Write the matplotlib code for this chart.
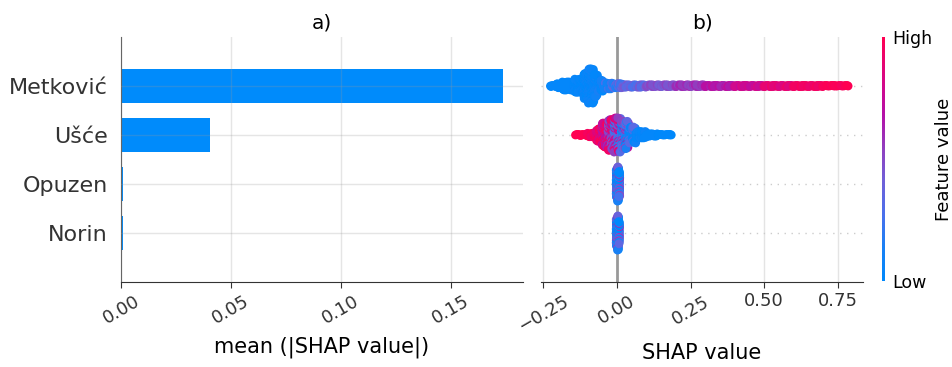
import matplotlib
matplotlib.use('Agg')
import matplotlib.pyplot as plt
import numpy as np
from matplotlib.colors import LinearSegmentedColormap
from matplotlib.cm import ScalarMappable

# features, bottom row first
features = ['Norin', 'Opuzen', 'Ušće', 'Metković']
mean_abs_shap = [0.0009, 0.0009, 0.0405, 0.1736]

bar_ticks = [0.0, 0.05, 0.10, 0.15]
bar_tick_labels = ['0.00', '0.05', '0.10', '0.15']
swarm_ticks = [-0.25, 0.0, 0.25, 0.50, 0.75]
swarm_tick_labels = ['\u22120.25', '0.00', '0.25', '0.50', '0.75']

# beeswarm read off as bins: edges, points per 0.01 wide column,
# mean feature value (0 low .. 1 high) and how mixed the colours are
metkovic_edges = [-0.225, -0.205, -0.185, -0.145, -0.112, -0.097, -0.078, -0.064, -0.045,
                  -0.015, 0.02, 0.1, 0.2, 0.3, 0.4, 0.5, 0.6, 0.7, 0.785]
metkovic_counts = [3, 8, 15, 24, 45, 61, 40, 20, 11, 8, 5, 4, 4, 3, 3, 3, 3, 2]
metkovic_fv = [0.02, 0.02, 0.02, 0.03, 0.04, 0.05, 0.06, 0.08, 0.15, 0.28, 0.36, 0.48,
               0.58, 0.68, 0.78, 0.88, 0.94, 0.98]
metkovic_spread = [0, 0, 0, 0.03, 0.05, 0.05, 0.05, 0.08, 0.12, 0.12, 0.1, 0.06,
                   0.06, 0.06, 0.05, 0.05, 0.03, 0.02]

usce_edges = [-0.140, -0.125, -0.100, -0.070, -0.050, -0.030, -0.010, 0.015, 0.040,
              0.065, 0.100, 0.140, 0.190]
usce_counts = [2, 3, 7, 23, 43, 55, 61, 49, 29, 12, 5, 2]
usce_fv = [1.0, 1.0, 0.97, 0.92, 0.85, 0.72, 0.55, 0.35, 0.15, 0.05, 0.02, 0.0]
usce_spread = [0, 0, 0.05, 0.1, 0.2, 0.3, 0.4, 0.35, 0.2, 0.05, 0, 0]

opuzen_edges = [-0.002, 0.002, 0.006, 0.010]
opuzen_counts = [50, 61, 45]
opuzen_fv = [0.16, 0.14, 0.16]
opuzen_spread = [0.45, 0.5, 0.45]

norin_edges = [-0.002, 0.002, 0.006, 0.009]
norin_counts = [48, 61, 40]
norin_fv = [0.15, 0.13, 0.15]
norin_spread = [0.5, 0.5, 0.5]

swarms = {
    'Metković': (metkovic_edges, metkovic_counts, metkovic_fv, metkovic_spread),
    'Ušće': (usce_edges, usce_counts, usce_fv, usce_spread),
    'Opuzen': (opuzen_edges, opuzen_counts, opuzen_fv, opuzen_spread),
    'Norin': (norin_edges, norin_counts, norin_fv, norin_spread),
}

BLUE = '#008bfb'
cmap = LinearSegmentedColormap.from_list('red_blue', [
    (0.0, '#0088fb'), (0.14, '#1a80f5'), (0.27, '#4a70ec'), (0.41, '#7060d8'),
    (0.54, '#9040c0'), (0.68, '#b410a8'), (0.81, '#d4088a'), (1.0, '#ff0052')])

# fixed colour mixing order inside a stacked column
MIX = [0.0, -0.6, 0.4, -0.9, 0.9, -0.3, 0.7, -1.0, 0.2, 1.0, -0.5, 0.5]
GOLDEN = 0.6180339887


def build_swarm(edges, counts, fv, spread, col_w=0.01):
    xs, ys, cs = [], [], []
    for b in range(len(counts)):
        lo, hi = edges[b], edges[b + 1]
        ncol = max(1, int(round((hi - lo) / col_w)))
        w = (hi - lo) / ncol
        n = counts[b]
        for c in range(ncol):
            x0 = lo + c * w
            for layer in range(n):
                # scatter the position inside the column so stacks don't form diagonals
                xs.append(x0 + ((layer + c) * GOLDEN % 1.0) * w)
                ys.append(np.ceil(layer / 2) * ((layer % 2) * 2 - 1))
                cs.append(min(1, max(0, fv[b] + spread[b] * MIX[(layer + c) % len(MIX)])))
    ys = np.array(ys)
    ys *= 0.9 * (0.4 / (np.max(ys) + 1))
    return np.array(xs), ys, np.array(cs)


fig = plt.figure(figsize=(9.53, 3.67), dpi=100)
ax1 = fig.add_axes([121 / 953, 85 / 367, 402 / 953, 245 / 367])
ax2 = fig.add_axes([541 / 953, 85 / 367, 322 / 953, 245 / 367])
cax = fig.add_axes([882 / 953, 86 / 367, 3 / 953, 244 / 367])

rows = np.arange(len(features))

# a) bar chart
ax1.barh(rows, mean_abs_shap, height=0.7, color=BLUE, zorder=2)
ax1.set_xlim(0, 0.1827)
ax1.set_ylim(-1, len(features))
ax1.set_yticks(rows)
ax1.set_yticklabels(features, fontsize=16, color='#333333')
ax1.tick_params(axis='y', length=0, pad=9.5)
ax1.set_xticks(bar_ticks)
ax1.set_xticklabels(bar_tick_labels, rotation=30, ha='center', fontsize=13, color='#333333')
ax1.tick_params(axis='x', length=4, color='#333333')
ax1.grid(True, color='#999999', alpha=0.25, lw=1)
ax1.set_axisbelow(False)
for side in ['top', 'right']:
    ax1.spines[side].set_visible(False)
ax1.spines['left'].set_color('#555555')
ax1.spines['bottom'].set_color('#333333')
ax1.set_title('a)', fontsize=14.5)
ax1.set_xlabel('mean (|SHAP value|)', fontsize=15, va='center')
ax1.xaxis.set_label_coords(0.5, -0.265)

# b) beeswarm
for t in swarm_ticks:
    if t != 0:
        ax2.axvline(t, color='#e4e4e4', lw=1, zorder=0.3)
ax2.axvline(0, color='#999999', lw=2, zorder=0.5)
for r in rows:
    ax2.axhline(r, color='#cccccc', lw=1, dashes=(1, 4), zorder=0.4)
for r, name in zip(rows, features):
    xs, ys, cs = build_swarm(*swarms[name])
    ax2.scatter(xs, r + ys, c=cs, cmap=cmap, vmin=0, vmax=1, s=40,
                linewidths=0, zorder=3, rasterized=True)
ax2.set_xlim(-0.257, 0.835)
ax2.set_ylim(-1, len(features))
ax2.set_yticks([])
ax2.set_xticks(swarm_ticks)
ax2.set_xticklabels(swarm_tick_labels, fontsize=13, color='#333333')
for i, lab in enumerate(ax2.get_xticklabels()):
    if i < 3:
        lab.set_rotation(30)
    lab.set_ha('center')
ax2.tick_params(axis='x', length=4, color='#333333')
for side in ['top', 'right', 'left']:
    ax2.spines[side].set_visible(False)
ax2.spines['bottom'].set_color('#333333')
ax2.set_title('b)', fontsize=14.5)
ax2.set_xlabel('SHAP value', fontsize=15, va='center')
ax2.xaxis.set_label_coords(0.5, -0.29)

# colour bar
sm = ScalarMappable(cmap=cmap)
sm.set_array([0, 1])
cb = fig.colorbar(sm, cax=cax, ticks=[0, 1])
cb.set_ticklabels(['Low', 'High'])
cb.ax.tick_params(length=0, labelsize=12.5, pad=5)
cb.outline.set_visible(False)
cb.set_label('Feature value', fontsize=13, labelpad=2)

plt.savefig('out.png', dpi=100)
